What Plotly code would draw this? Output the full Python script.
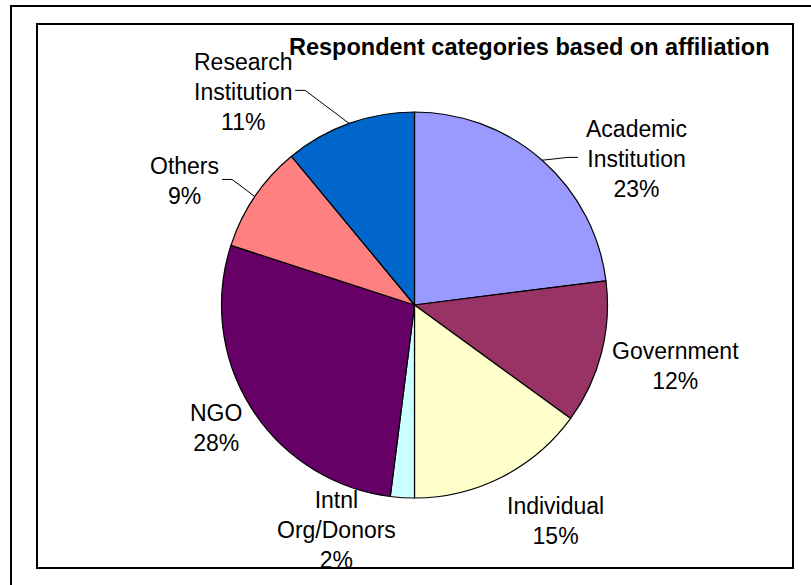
import math
import plotly.graph_objects as go

# ---- data ----
categories = ["Academic<br>Institution", "Government", "Individual",
              "Intnl<br>Org/Donors", "NGO", "Others", "Research<br>Institution"]
values = [23, 12, 15, 2, 28, 9, 11]
colors = ["#9999FF", "#993366", "#FFFFCC", "#CCFFFF", "#660066", "#FF8080", "#0066CC"]
title_text = "Respondent categories based on affiliation"

# ---- layout / style ----
W, H = 811, 585
CX, CY, R = 414.5, 305, 193           # pie centre and radius (px)
LABEL_R = [1.379, 1.391, 1.338, 1.235, 1.210, 1.356, 1.417]   # label distance (x radius)
LABEL_DA = [15.3, -1.3, -6.2, 15.6, 0.6, -5.9, -19.0]         # label angle nudge (deg)
LEADER_DX = [-59, None, None, None, None, 38, 52]             # leader end offset from label centre (px)
FONT = "Liberation Sans, Arial, Helvetica, sans-serif"
FS = 23


def px(x):
    return x / W


def py(y):
    return 1 - y / H


fig = go.Figure(go.Pie(
    labels=categories, values=values, sort=False, direction="clockwise", rotation=0,
    marker=dict(colors=colors, line=dict(color="black", width=1.2)),
    textinfo="none", hoverinfo="label+percent", showlegend=False,
    domain=dict(x=[px(CX - R), px(CX + R)], y=[py(CY + R), py(CY - R)]),
))

total = sum(values)
annotations = []
shapes = []
cum = 0
for i, (lab, v) in enumerate(zip(categories, values)):
    mid = (cum + v / 2) / total * 360
    cum += v
    a = math.radians(mid + LABEL_DA[i])
    lx = CX + LABEL_R[i] * R * math.sin(a)
    ly = CY - LABEL_R[i] * R * math.cos(a)
    annotations.append(dict(
        x=px(lx), y=py(ly), xref="paper", yref="paper", showarrow=False,
        text=f"{lab}<br>{v / total * 100:.0f}%", align="center",
        xanchor="center", yanchor="middle",
        font=dict(family=FONT, size=FS, color="black"),
    ))
    if LEADER_DX[i] is not None:
        am = math.radians(mid)
        sx = CX + R * math.sin(am)
        sy = CY - R * math.cos(am)
        ex = lx + LEADER_DX[i]
        ey = ly - 1.5
        elx = ex + (10 if LEADER_DX[i] > 0 else -10)
        shapes.append(dict(type="path", xref="paper", yref="paper",
                           path=f"M {px(sx)},{py(sy)} L {px(elx)},{py(ey)} L {px(ex)},{py(ey)}",
                           line=dict(color="black", width=1)))

# title
annotations.append(dict(
    x=px(529.5), y=py(47), xref="paper", yref="paper", showarrow=False,
    text=f"<b>{title_text}</b>", xanchor="center", yanchor="middle",
    font=dict(family=FONT, size=23.5, color="black"),
))

# frames
shapes.append(dict(type="rect", xref="paper", yref="paper",
                   x0=px(11), y0=py(6), x1=1.05, y1=-0.05,
                   line=dict(color="black", width=2), layer="below"))
shapes.append(dict(type="rect", xref="paper", yref="paper",
                   x0=px(37), y0=py(24), x1=px(793), y1=py(568),
                   line=dict(color="black", width=2), layer="below"))

fig.update_layout(
    width=W, height=H, margin=dict(l=0, r=0, t=0, b=0),
    paper_bgcolor="white", plot_bgcolor="white",
    annotations=annotations, shapes=shapes,
)

fig.write_html("out.html", config={"displayModeBar": False},
               post_script="document.body.style.margin='0';document.body.style.overflow='hidden';")
